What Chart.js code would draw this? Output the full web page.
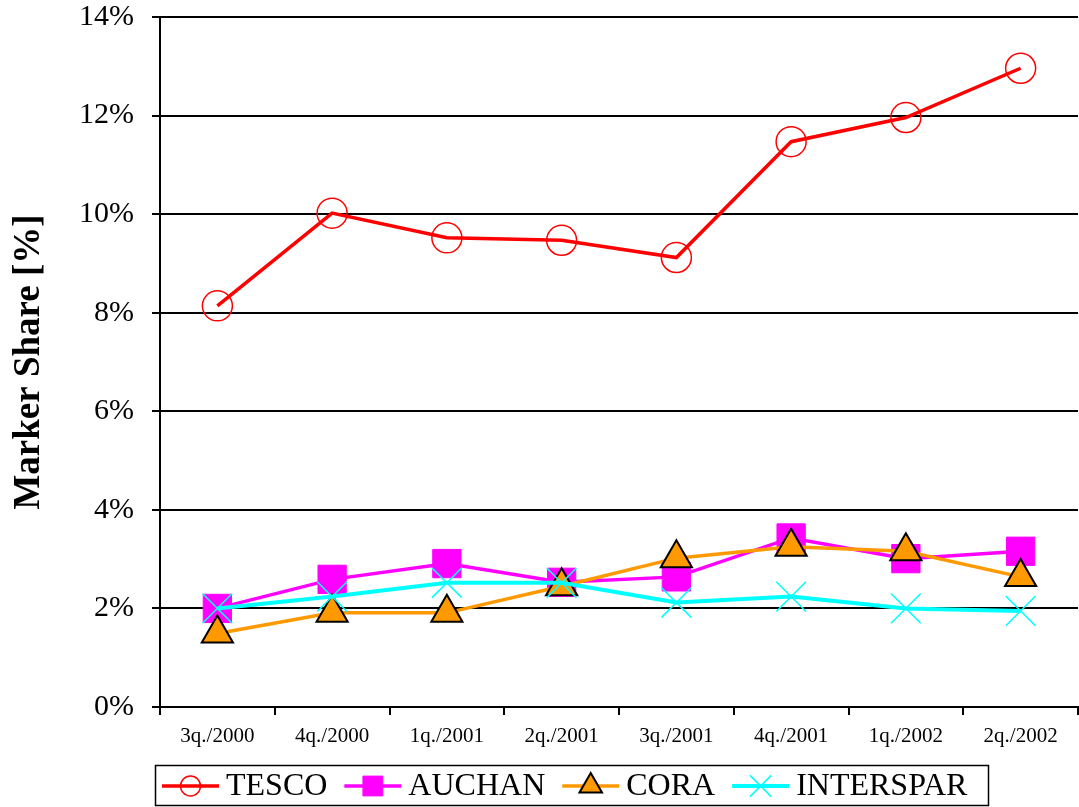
<!DOCTYPE html>
<html>
<head>
<meta charset="utf-8">
<script src="https://cdn.jsdelivr.net/npm/chart.js@4/dist/chart.umd.min.js"></script>
<style>
  html, body { margin: 0; padding: 0; background: #fff; }
  #wrap { width: 1079px; height: 807px; }
</style>
</head>
<body>
<div id="wrap"><canvas id="chart" width="1079" height="807"></canvas></div>
<script>
// Market share by quarter
const quarters = ["3q./2000", "4q./2000", "1q./2001", "2q./2001", "3q./2001", "4q./2001", "1q./2002", "2q./2002"];
const tesco = [8.14, 10.02, 9.52, 9.47, 9.12, 11.47, 11.96, 12.96];
const auchan = [2.0, 2.59, 2.91, 2.53, 2.64, 3.43, 3.01, 3.16];
const cora = [1.49, 1.91, 1.91, 2.45, 3.02, 3.25, 3.16, 2.64];
const interspar = [2.0, 2.24, 2.52, 2.52, 2.12, 2.24, 2.0, 1.95];

const SERIF = "'Liberation Serif', 'Times New Roman', serif";

// legend drawn inside a bordered box under the axis
const boxLegend = {
  id: "boxLegend",
  afterDraw(chart) {
    const ctx = chart.ctx;
    ctx.save();
    ctx.strokeStyle = "#000";
    ctx.lineWidth = 1.5;
    ctx.strokeRect(155.5, 765.5, 833, 40);
    ctx.font = "32px " + SERIF;
    ctx.textBaseline = "middle";
    const y = 786;
    let x = 162;
    chart.data.datasets.forEach(ds => {
      ctx.strokeStyle = ds.borderColor;
      ctx.lineWidth = ds.borderWidth;
      ctx.beginPath();
      ctx.moveTo(x, y);
      ctx.lineTo(x + 57, y);
      ctx.stroke();
      ctx.fillStyle = ds.pointBackgroundColor;
      ctx.strokeStyle = ds.pointBorderColor;
      ctx.lineWidth = ds.pointBorderWidth;
      Chart.helpers.drawPoint(ctx, { pointStyle: ds.pointStyle, radius: ds.legendRadius, rotation: 0, borderWidth: ds.pointBorderWidth }, x + 28.5, y);
      ctx.fillStyle = "#000";
      ctx.fillText(ds.label, x + 64, y + 1);
      x += 64 + ctx.measureText(ds.label).width + 17;
    });
    ctx.restore();
  }
};

new Chart(document.getElementById("chart"), {
  type: "line",
  data: {
    labels: quarters,
    datasets: [
      {
        label: "TESCO", data: tesco, order: 1,
        borderColor: "#ff0000", borderWidth: 3.5,
        pointStyle: "circle", pointRadius: 15, legendRadius: 10,
        pointBackgroundColor: "rgba(0,0,0,0)", pointBorderColor: "#ff0000", pointBorderWidth: 1.5
      },
      {
        label: "AUCHAN", data: auchan, order: 4,
        borderColor: "#ff00ff", borderWidth: 3.5,
        pointStyle: "rect", pointRadius: 20, legendRadius: 14,
        pointBackgroundColor: "#ff00ff", pointBorderColor: "#ff00ff", pointBorderWidth: 1
      },
      {
        label: "CORA", data: cora, order: 3,
        borderColor: "#ff9900", borderWidth: 3.5,
        pointStyle: "triangle", pointRadius: 18, legendRadius: 13,
        pointBackgroundColor: "#ff9900", pointBorderColor: "#000000", pointBorderWidth: 2
      },
      {
        label: "INTERSPAR", data: interspar, order: 2,
        borderColor: "#00ffff", borderWidth: 4,
        pointStyle: "crossRot", pointRadius: 21, legendRadius: 15,
        pointBackgroundColor: "#00ffff", pointBorderColor: "#00ffff", pointBorderWidth: 1.5
      }
    ]
  },
  options: {
    responsive: false,
    animation: false,
    layout: { autoPadding: false, padding: { left: 0, right: 1, top: 17, bottom: 45 } },
    plugins: { legend: { display: false }, tooltip: { enabled: false } },
    elements: { line: { tension: 0 } },
    scales: {
      x: {
        offset: true,
        grid: { offset: true, drawOnChartArea: false, drawTicks: true, tickLength: 8, color: "#000", lineWidth: 2 },
        border: { color: "#000", width: 2 },
        ticks: { color: "#000", font: { family: SERIF, size: 21 }, padding: 9, maxRotation: 0 },
        afterFit(scale) { scale.height = 55; scale.paddingLeft = 0; scale.paddingRight = 0; }
      },
      y: {
        min: 0, max: 14,
        ticks: { stepSize: 2, color: "#000", font: { family: SERIF, size: 30 }, padding: 18, callback: v => v + "%" },
        grid: { color: "#000", lineWidth: 2, tickLength: 8 },
        border: { color: "#000", width: 2 },
        title: { display: true, text: "Marker Share [%]", color: "#000", font: { family: SERIF, size: 37, weight: "bold" }, padding: { top: 7, bottom: 0 } },
        afterFit(scale) { scale.width = 160; scale.paddingTop = 0; scale.paddingBottom = 0; }
      }
    }
  },
  plugins: [boxLegend]
});
</script>
</body>
</html>
